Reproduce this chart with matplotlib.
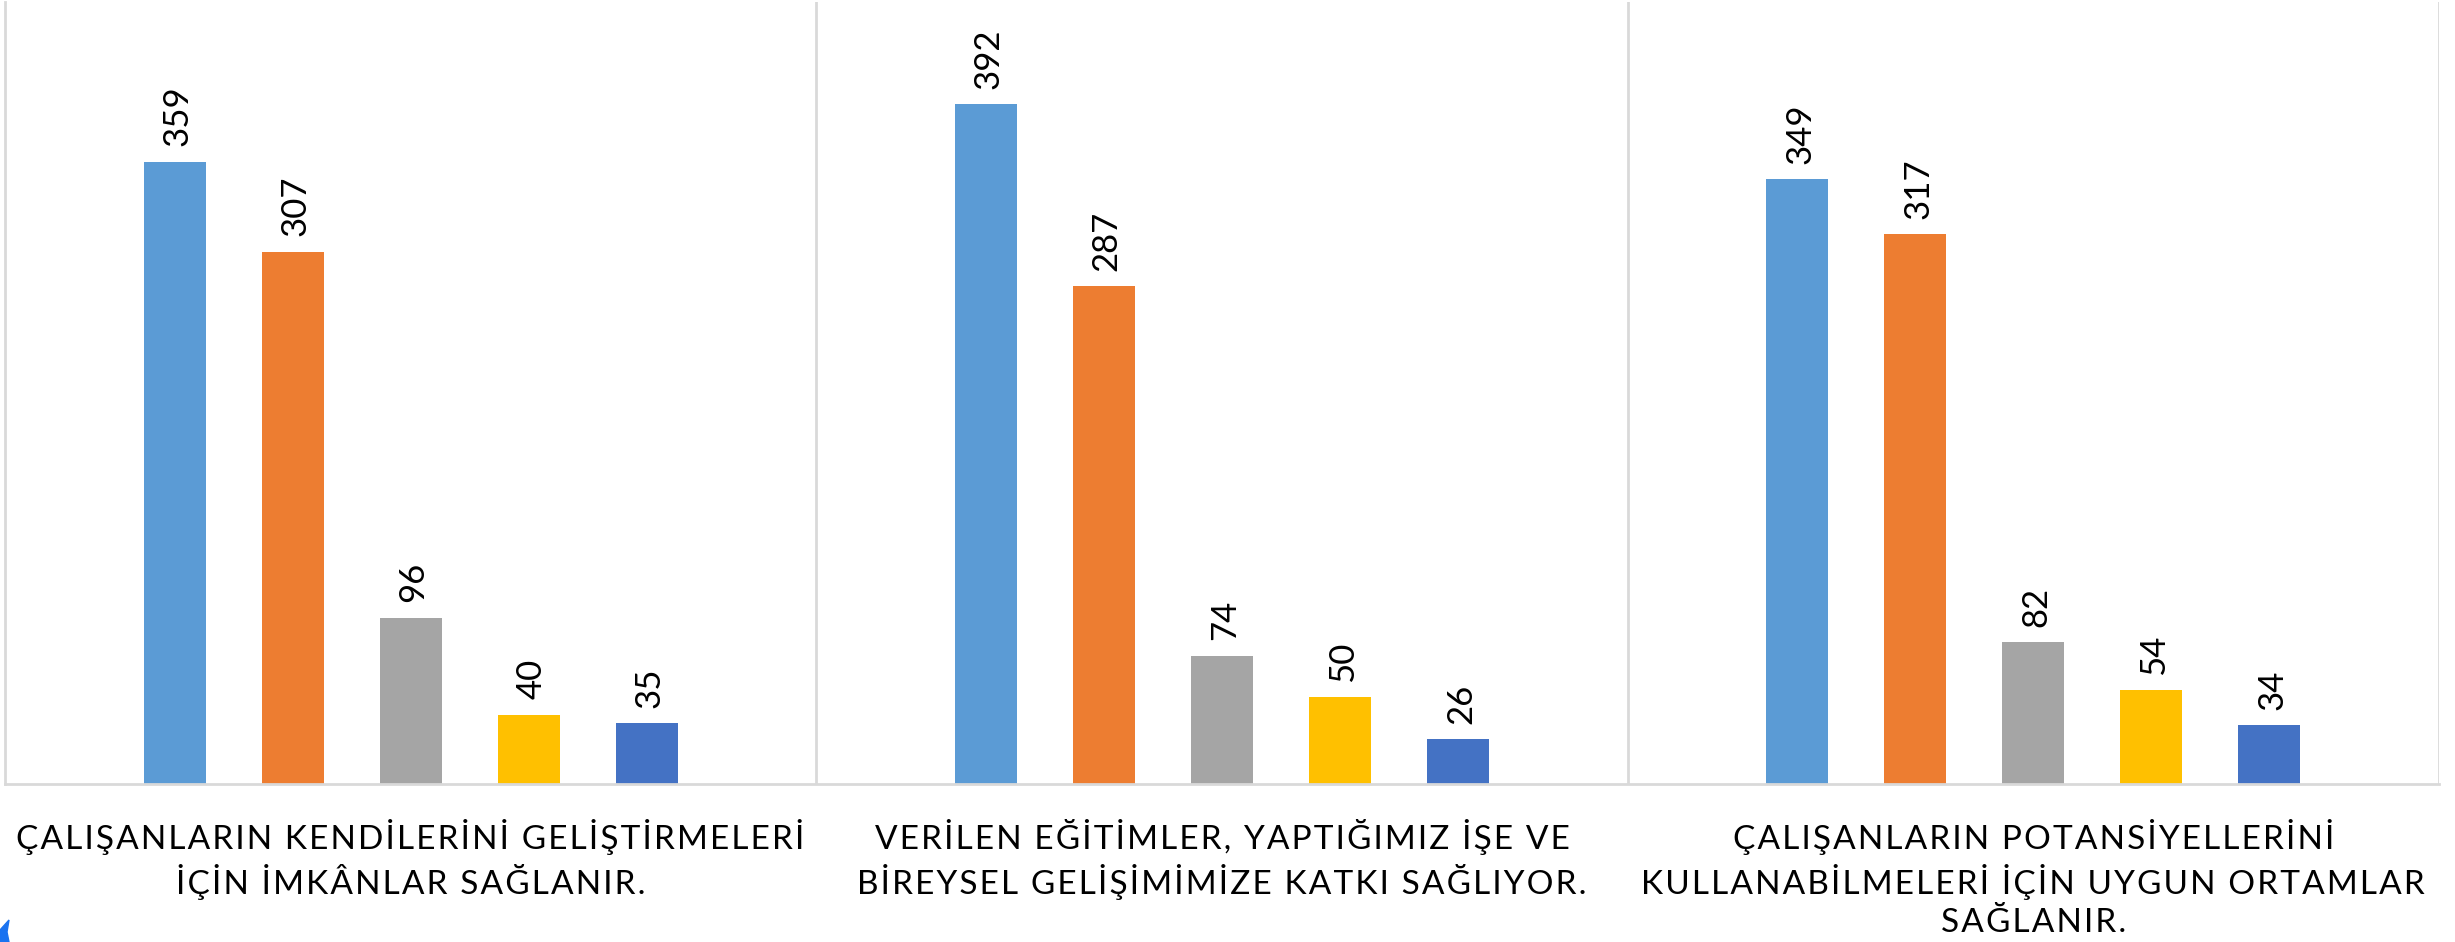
import matplotlib
matplotlib.use("Agg")
import matplotlib.pyplot as plt
import numpy as np
from matplotlib.patches import Polygon

plt.rcParams["font.family"] = ["Lato", "DejaVu Sans"]

categories = [
    "ÇALIŞANLARIN KENDİLERİNİ GELİŞTİRMELERİ\nİÇİN İMKÂNLAR SAĞLANIR.",
    "VERİLEN EĞİTİMLER, YAPTIĞIMIZ İŞE VE\nBİREYSEL GELİŞİMİMİZE KATKI SAĞLIYOR.",
    "ÇALIŞANLARIN POTANSİYELLERİNİ\nKULLANABİLMELERİ İÇİN UYGUN ORTAMLAR\nSAĞLANIR.",
]
series_1 = [359, 392, 349]
series_2 = [307, 287, 317]
series_3 = [96, 74, 82]
series_4 = [40, 50, 54]
series_5 = [35, 26, 34]

all_series = [series_1, series_2, series_3, series_4, series_5]
colors = ["#5B9BD5", "#ED7D31", "#A5A5A5", "#FFC000", "#4472C4"]

W, H = 2455, 942
fig = plt.figure(figsize=(W / 100, H / 100), dpi=100, facecolor="white")
# axes box in pixels: left 5, right 2439, baseline 784, top 2
ax = fig.add_axes([5 / W, (H - 784) / H, (2439 - 5) / W, (784 - 2) / H])

spacing = 0.1455
bar_width = 0.0765
x = np.arange(len(categories)) + 0.5

for j, (values, color) in enumerate(zip(all_series, colors)):
    pos = x + (j - 2) * spacing
    ax.bar(pos, values, width=bar_width, color=color)
    for px, val in zip(pos, values):
        ax.annotate(str(val), (px, val), xytext=(2, 11), textcoords="offset points",
                    rotation=90, ha="center", va="bottom", fontsize=25, color="black")

ax.set_xlim(0, 3)
ax.set_ylim(0, 451)
ax.set_yticks([])
ax.set_xticks([])
for spine in ["top", "right"]:
    ax.spines[spine].set_visible(False)
for spine in ["left", "bottom"]:
    ax.spines[spine].set_color("#D9D9D9")
    ax.spines[spine].set_linewidth(2)
for sep in [1, 2, 3]:
    ax.axvline(sep, color="#D9D9D9", lw=2)

# category labels, spaced out a little like the original
for xc, label in zip(x, categories):
    spaced = "\n".join("\u200a".join(line) for line in label.split("\n"))
    ax.annotate(spaced, (xc, 0), xytext=(0, -25), textcoords="offset points",
                ha="center", va="top", fontsize=24, color="black", linespacing=1.32)

# small blue fragment in the bottom left corner of the source image
corner = Polygon([(0, 0), (0, 12 / H), (9 / W, 22 / H), (7 / W, 10 / H), (9 / W, 0)],
                 closed=True, color="#1A73F0", transform=fig.transFigure)
fig.add_artist(corner)

fig.savefig("out.png", dpi=100)
